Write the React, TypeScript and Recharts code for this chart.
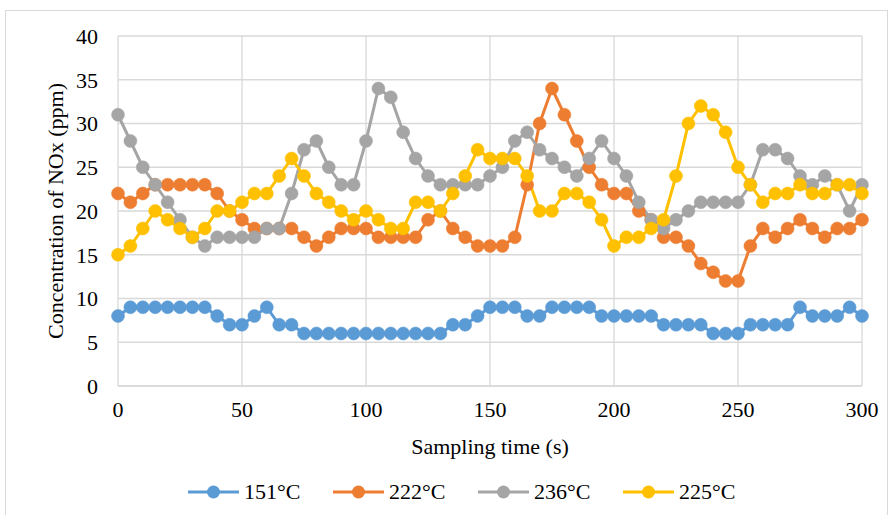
import React from "react";
import {
  LineChart,
  Line,
  XAxis,
  YAxis,
  CartesianGrid,
  Legend,
} from "recharts";

const FONT = '"Liberation Serif", "Times New Roman", serif';

// sampling time (s)
const times = [
  0, 5, 10, 15, 20, 25, 30, 35, 40, 45, 50, 55, 60, 65, 70, 75, 80, 85, 90, 95,
  100, 105, 110, 115, 120, 125, 130, 135, 140, 145, 150, 155, 160, 165, 170, 175,
  180, 185, 190, 195, 200, 205, 210, 215, 220, 225, 230, 235, 240, 245, 250, 255,
  260, 265, 270, 275, 280, 285, 290, 295, 300,
];

const nox151 = [
  8, 9, 9, 9, 9, 9, 9, 9, 8, 7, 7, 8, 9, 7, 7, 6, 6, 6, 6, 6,
  6, 6, 6, 6, 6, 6, 6, 7, 7, 8, 9, 9, 9, 8, 8, 9, 9, 9, 9, 8,
  8, 8, 8, 8, 7, 7, 7, 7, 6, 6, 6, 7, 7, 7, 7, 9, 8, 8, 8, 9, 8,
];
const nox222 = [
  22, 21, 22, 23, 23, 23, 23, 23, 22, 20, 19, 18, 18, 18, 18, 17, 16, 17, 18, 18,
  18, 17, 17, 17, 17, 19, 20, 18, 17, 16, 16, 16, 17, 23, 30, 34, 31, 28, 25, 23,
  22, 22, 20, 19, 17, 17, 16, 14, 13, 12, 12, 16, 18, 17, 18, 19, 18, 17, 18, 18, 19,
];
const nox236 = [
  31, 28, 25, 23, 21, 19, 17, 16, 17, 17, 17, 17, 18, 18, 22, 27, 28, 25, 23, 23,
  28, 34, 33, 29, 26, 24, 23, 23, 23, 23, 24, 25, 28, 29, 27, 26, 25, 24, 26, 28,
  26, 24, 21, 19, 18, 19, 20, 21, 21, 21, 21, 23, 27, 27, 26, 24, 23, 24, 23, 20, 23,
];
const nox225 = [
  15, 16, 18, 20, 19, 18, 17, 18, 20, 20, 21, 22, 22, 24, 26, 24, 22, 21, 20, 19,
  20, 19, 18, 18, 21, 21, 20, 22, 24, 27, 26, 26, 26, 24, 20, 20, 22, 22, 21, 19,
  16, 17, 17, 18, 19, 24, 30, 32, 31, 29, 25, 23, 21, 22, 22, 23, 22, 22, 23, 23, 22,
];

const xTicks = [0, 50, 100, 150, 200, 250, 300];
const yTicks = [0, 5, 10, 15, 20, 25, 30, 35, 40];

const series = [
  { key: "s151", name: "151°C", color: "#5B9BD5", values: nox151 },
  { key: "s222", name: "222°C", color: "#ED7D31", values: nox222 },
  { key: "s236", name: "236°C", color: "#A5A5A5", values: nox236 },
  { key: "s225", name: "225°C", color: "#FFC000", values: nox225 },
];

const data = times.map((t, i) => {
  const row: Record<string, number> = { t };
  series.forEach((s) => {
    row[s.key] = s.values[i];
  });
  return row;
});

function LegendContent() {
  return (
    <div style={{ display: "flex", height: 30, alignItems: "center" }}>
      {series.map((s) => (
        <div
          key={s.key}
          style={{ display: "flex", alignItems: "center", width: 145, flex: "none" }}
        >
          <svg width={51} height={16}>
            <line x1={0} y1={8} x2={51} y2={8} stroke={s.color} strokeWidth={3} />
            <circle cx={25.5} cy={8} r={6.5} fill={s.color} />
          </svg>
          <span
            style={{
              marginLeft: 5,
              fontFamily: FONT,
              fontSize: 22,
              color: "#000",
              lineHeight: "30px",
            }}
          >
            {s.name}
          </span>
        </div>
      ))}
    </div>
  );
}

export default function App() {
  return (
    <div
      style={{
        position: "absolute",
        left: 0,
        top: 0,
        width: 892,
        height: 515,
        background: "#fff",
        overflow: "hidden",
      }}
    >
      <div
        style={{
          position: "absolute",
          left: 5,
          top: 10,
          width: 883,
          height: 505,
          boxSizing: "border-box",
          border: "1px solid #d9d9d9",
          borderBottom: "none",
        }}
      />
      <LineChart
        width={892}
        height={515}
        data={data}
        margin={{ top: 36, right: 30, left: 0, bottom: 54 }}
      >
        <CartesianGrid stroke="#d9d9d9" strokeWidth={1.3} />
        <XAxis
          type="number"
          dataKey="t"
          domain={[0, 300]}
          ticks={xTicks}
          interval={0}
          tickLine={false}
          tickSize={0}
          tickMargin={15}
          axisLine={{ stroke: "#d9d9d9", strokeWidth: 1.3 }}
          tick={{ fill: "#000", fontSize: 22, fontFamily: FONT }}
          height={75}
          label={{
            value: "Sampling time (s)",
            position: "insideBottom",
            offset: 7,
            style: { fill: "#000", fontSize: 22, fontFamily: FONT },
          }}
        />
        <YAxis
          type="number"
          domain={[0, 40]}
          ticks={yTicks}
          interval={0}
          width={118}
          tickLine={false}
          tickSize={0}
          tickMargin={20}
          axisLine={false}
          tick={{ fill: "#000", fontSize: 22, fontFamily: FONT }}
          label={{
            value: "Concentration of NOx (ppm)",
            angle: -90,
            position: "insideLeft",
            offset: 55,
            style: { textAnchor: "middle", fill: "#000", fontSize: 22, fontFamily: FONT },
          }}
        />
        <Legend
          layout="horizontal"
          verticalAlign="middle"
          align="center"
          wrapperStyle={{ top: 477, left: 188, width: 600, bottom: "auto", right: "auto" }}
          content={<LegendContent />}
        />
        {series.map((s) => (
          <Line
            key={s.key}
            type="linear"
            dataKey={s.key}
            name={s.name}
            stroke={s.color}
            strokeWidth={3}
            dot={{ r: 6.5, fill: s.color, stroke: s.color, strokeWidth: 0.5 }}
            activeDot={false}
            isAnimationActive={false}
          />
        ))}
      </LineChart>
    </div>
  );
}
